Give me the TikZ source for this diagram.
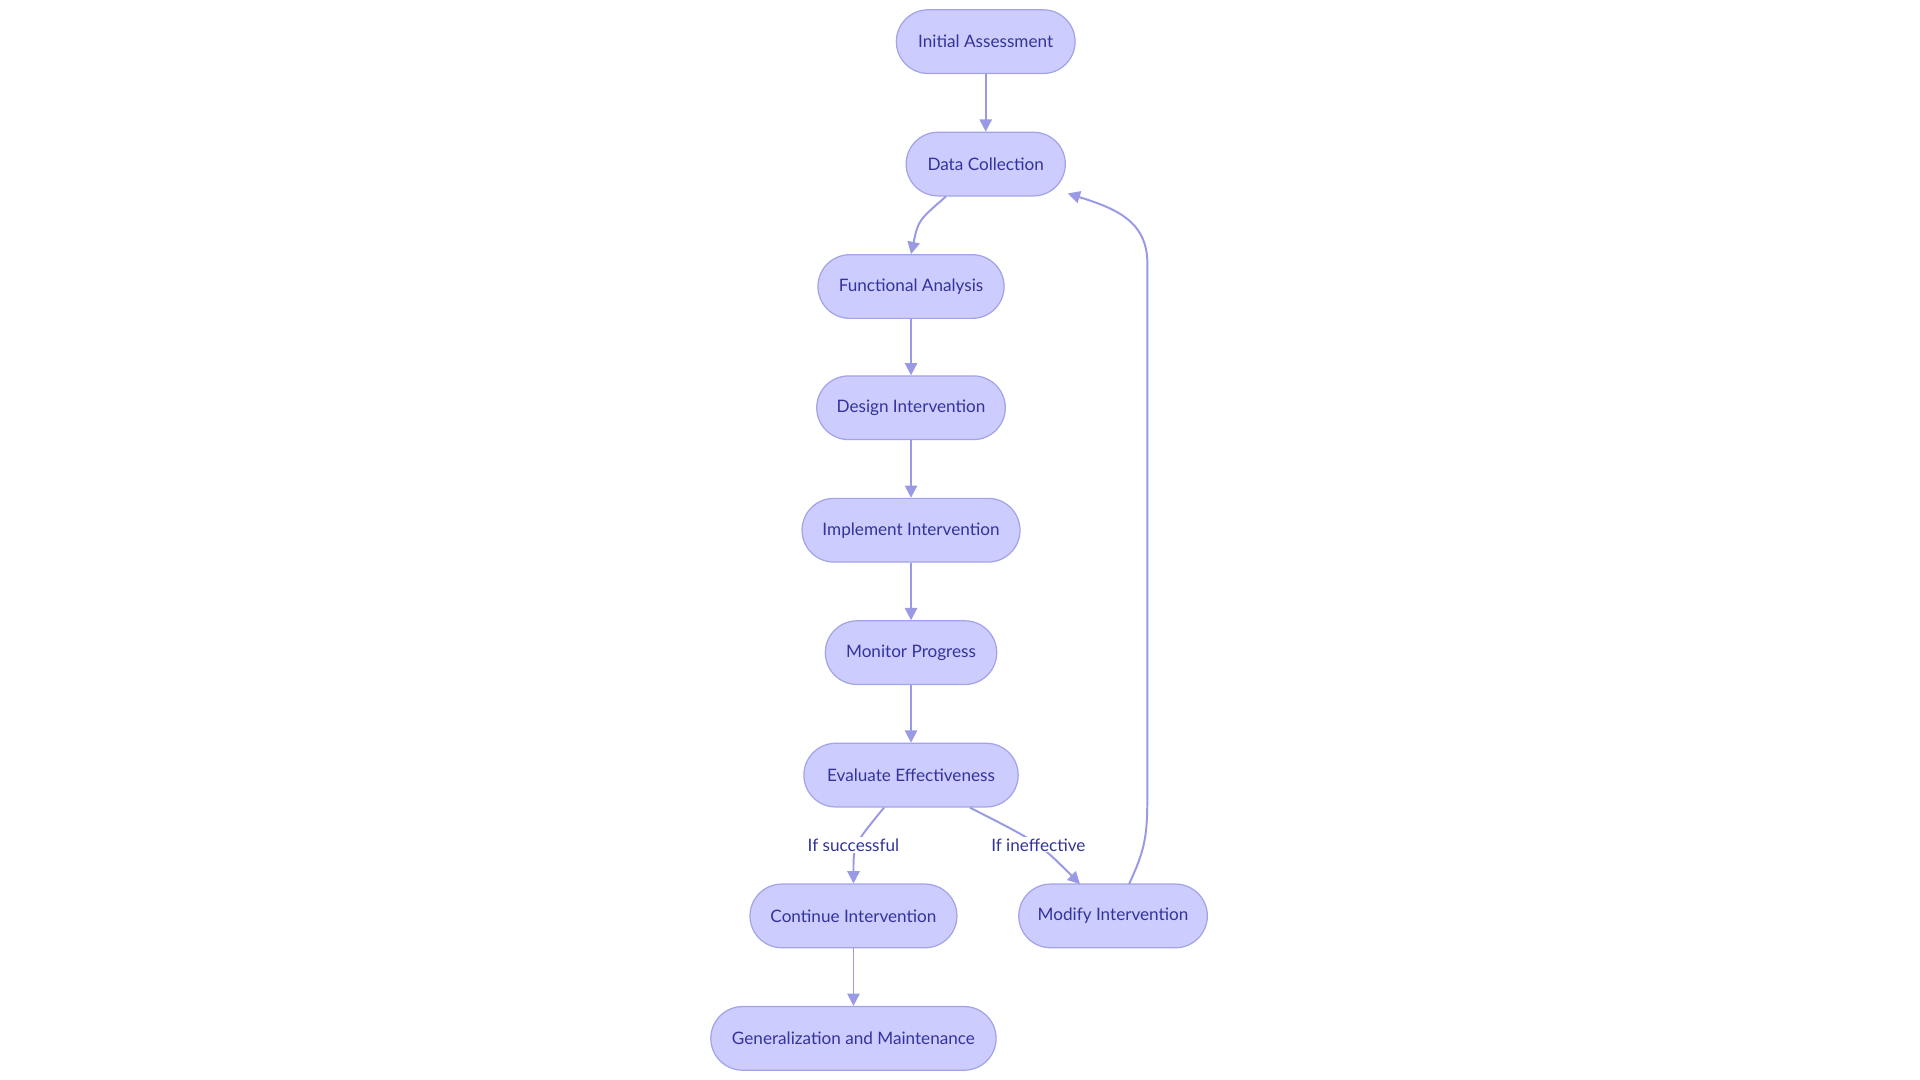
\documentclass[tikz,border=0pt]{standalone}
\usepackage{fontspec}
\setmainfont{Lato}
\usetikzlibrary{arrows.meta}
\definecolor{nfill}{HTML}{CCCCFF}
\definecolor{nline}{HTML}{A3A3E8}
\definecolor{ntext}{HTML}{33339A}
\definecolor{eline}{HTML}{9999E6}
\tikzset{
  box/.style={draw=nline,fill=nfill,line width=1pt,rounded corners=26pt,minimum height=52pt,text=ntext,font=\fontsize{14pt}{16pt}\selectfont,inner xsep=0pt},
  edge/.style={draw=eline,line width=1.6pt,-{Triangle[length=10pt,width=10pt]}},
  lab/.style={fill=white,text=ntext,font=\fontsize{14pt}{16pt}\selectfont,inner sep=1pt}
}
\begin{document}
\begin{tikzpicture}[x=1pt,y=-1pt]
\useasboundingbox[fill=white] (0,0) rectangle (1568,882);
\node[box,minimum width=146pt] (a) at (805,34) {Initial Assessment};
\node[box,minimum width=130pt] (b) at (805,134) {Data Collection};
\node[box,minimum width=152pt] (c) at (744,234) {Functional Analysis};
\node[box,minimum width=154pt] (d) at (744,333) {Design Intervention};
\node[box,minimum width=178pt] (e) at (744,433) {Implement Intervention};
\node[box,minimum width=140pt] (f) at (744,533) {Monitor Progress};
\node[box,minimum width=175pt] (g) at (744,633) {Evaluate Effectiveness};
\node[box,minimum width=169pt] (h) at (697,748) {Continue Intervention};
\node[box,minimum width=154pt] (i) at (909,748) {Modify Intervention};
\node[box,minimum width=233pt] (j) at (697,848) {Generalization and Maintenance};
\coordinate (k1) at (937,215);
\draw[edge] (a) -- (b);
\draw[edge] (b.south west) ++(33,0) .. controls (750,180) .. (c.north);
\draw[edge] (c) -- (d);
\draw[edge] (d) -- (e);
\draw[edge] (e) -- (f);
\draw[edge] (f) -- (g);
\draw[edge] (g.south) ++(-22,0) .. controls (697,690) .. (h.north);
\draw[edge] (g.south) ++(48,0) .. controls (848,688) .. (882,722);
\node[lab] at (697,690) {If successful};
\node[lab] at (848,690) {If ineffective};
\draw[edge] (922,722) .. controls (937,690) and (937,680) .. (937,640) -- (k1) .. controls (937,180) and (910,170) .. (872,158);
\draw[edge] (h) -- (j);
\end{tikzpicture}
\end{document}
